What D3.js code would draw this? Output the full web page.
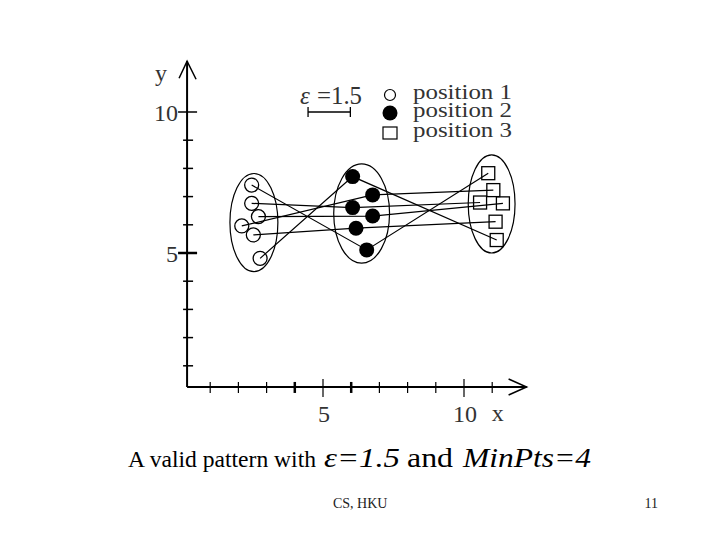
<!DOCTYPE html>
<html>
<head>
<meta charset="utf-8">
<script src="https://cdn.jsdelivr.net/npm/d3@7"></script>
<style>
  body { margin: 0; background: #fff; }
  svg text { font-family: "Liberation Serif", "Times New Roman", serif; }
</style>
</head>
<body>
<div class="canvas"></div>
<script>
// objects at the three positions (same index = same object)
const pos1 = [[2.47, 7.41], [2.47, 6.76], [2.71, 6.29], [2.12, 5.96], [2.53, 5.64], [2.77, 4.81]]
const pos2 = [[6.55, 5.11], [6.05, 6.61], [6.76, 6.31], [6.76, 7.06], [6.17, 5.88], [6.05, 7.71]]
const pos3 = [[10.86, 7.83], [10.57, 6.79], [11.38, 6.76], [11.04, 7.23], [11.12, 6.11], [11.16, 5.46]]

// cluster outlines (ellipses) in data units
const clusterCx = [2.55, 6.37, 10.98]
const clusterCy = [6.08, 6.40, 6.74]
const clusterRx = [0.85, 0.99, 0.83]
const clusterRy = [1.74, 1.76, 1.74]

const xTicks = [1, 2, 3, 4, 5, 6, 7, 8, 9, 10, 11]
const yTicks = [1, 2, 3, 4, 5, 6, 7, 8, 9, 10]
const xLabels = [5, 10]
const yLabels = [5, 10]
const legendLabels = ['position 1', 'position 2', 'position 3']
const eps = 1.5

// caption pieces: text, left x, width, italic, size
const captionParts = [
  ['A valid pattern with', 128, 188, false, 23],
  ['ε=1.5', 324, 76, true, 27],
  ['and', 407, 46, false, 27],
  ['MinPts=4', 463, 128, true, 27]
]

const width = 720, height = 540

const svg = d3.select('.canvas').append('svg')
  .attr('width', width)
  .attr('height', height)

const x = d3.scaleLinear().domain([0, 10]).range([182, 464])
const y = d3.scaleLinear().domain([0, 10]).range([394, 112])

// axis origin sits a bit off (0,0) as in the drawing
const ox = x(0.18), oy = y(0.25)

const axes = svg.append('g').attr('stroke', '#000').attr('fill', 'none')

axes.append('line').attr('x1', ox).attr('y1', oy).attr('x2', ox).attr('y2', y(11.8)).attr('stroke-width', 2)
axes.append('line').attr('x1', ox).attr('y1', oy).attr('x2', x(12.22)).attr('y2', oy).attr('stroke-width', 2)

// arrow heads (open chevrons)
axes.append('path')
  .attr('d', `M${ox - 8},${y(11.8) + 17} L${ox},${y(11.8)} L${ox + 9},${y(11.8) + 18}`)
  .attr('stroke-width', 1.5)
axes.append('path')
  .attr('d', `M${x(12.22) - 18},${oy - 8} L${x(12.22)},${oy} L${x(12.22) - 18},${oy + 8}`)
  .attr('stroke-width', 1.5)

// ticks cross the axis
axes.selectAll('.ytick').data(yTicks).enter()
  .append('line').attr('class', 'ytick')
  .attr('x1', d => yLabels.includes(d) ? ox - 9 : ox - 4)
  .attr('x2', d => yLabels.includes(d) ? ox + 10 : ox + 6)
  .attr('y1', d => y(d)).attr('y2', d => y(d))
  .attr('stroke-width', d => d === 5 ? 2.5 : 1.5)

axes.selectAll('.xtick').data(xTicks).enter()
  .append('line').attr('class', 'xtick')
  .attr('x1', d => x(d)).attr('x2', d => x(d))
  .attr('y1', d => xLabels.includes(d) ? oy - 8 : oy - 5)
  .attr('y2', d => xLabels.includes(d) ? oy + 10 : oy + 6)
  .attr('stroke-width', d => (d === 4 || d === 6) ? 2.5 : 1.2)

const labels = svg.append('g').attr('fill', '#333').attr('font-size', 24)

labels.selectAll('.ylab').data(yLabels).enter()
  .append('text')
  .attr('x', ox - 9)
  .attr('y', d => y(d) + 9)
  .attr('text-anchor', 'end')
  .text(d => d)

labels.selectAll('.xlab').data(xLabels).enter()
  .append('text')
  .attr('x', d => x(d) + 1)
  .attr('y', oy + 35)
  .attr('text-anchor', 'middle')
  .text(d => d)

labels.append('text').attr('x', ox - 26).attr('y', y(11.8) + 20).attr('text-anchor', 'middle').text('y')
labels.append('text').attr('x', x(11.2)).attr('y', oy + 34).attr('text-anchor', 'middle').text('x')

// cluster ellipses
const plot = svg.append('g')

plot.selectAll('.cluster').data(clusterCx).enter()
  .append('ellipse').attr('class', 'cluster')
  .attr('cx', d => x(d))
  .attr('cy', (d, i) => y(clusterCy[i]))
  .attr('rx', (d, i) => x(clusterRx[i]) - x(0))
  .attr('ry', (d, i) => y(0) - y(clusterRy[i]))
  .attr('fill', 'none')
  .attr('stroke', '#000')
  .attr('stroke-width', 1.2)

// object paths across positions
const line = d3.line().x(d => x(d[0])).y(d => y(d[1]))
plot.selectAll('.track').data(pos1.map((p, i) => [p, pos2[i], pos3[i]])).enter()
  .append('path').attr('class', 'track')
  .attr('d', line)
  .attr('fill', 'none')
  .attr('stroke', '#000')
  .attr('stroke-width', 1.2)

plot.selectAll('.p1').data(pos1).enter()
  .append('circle').attr('class', 'p1')
  .attr('cx', d => x(d[0])).attr('cy', d => y(d[1])).attr('r', 7)
  .attr('fill', 'none').attr('stroke', '#000').attr('stroke-width', 1.3)

plot.selectAll('.p2').data(pos2).enter()
  .append('circle').attr('class', 'p2')
  .attr('cx', d => x(d[0])).attr('cy', d => y(d[1])).attr('r', 7.5)
  .attr('fill', '#000')

plot.selectAll('.p3').data(pos3).enter()
  .append('rect').attr('class', 'p3')
  .attr('x', d => x(d[0]) - 6.5).attr('y', d => y(d[1]) - 6.5)
  .attr('width', 13).attr('height', 13)
  .attr('fill', 'none').attr('stroke', '#000').attr('stroke-width', 1.3)

// epsilon scale bar at y = 10
const barX = 4.47
const eg = svg.append('g')
eg.append('line').attr('x1', x(barX)).attr('x2', x(barX + eps)).attr('y1', y(10)).attr('y2', y(10))
  .attr('stroke', '#000').attr('stroke-width', 1.3)
eg.selectAll('.cap').data([barX, barX + eps]).enter()
  .append('line').attr('class', 'cap')
  .attr('x1', d => x(d)).attr('x2', d => x(d))
  .attr('y1', y(10) - 5).attr('y2', y(10) + 5)
  .attr('stroke', '#000').attr('stroke-width', 1.3)
eg.append('text').attr('x', 300).attr('y', 104).attr('font-size', 25).attr('fill', '#333')
  .attr('font-style', 'italic').text('ε')
eg.append('text').attr('x', 317).attr('y', 104).attr('font-size', 25).attr('fill', '#333')
  .attr('textLength', 45).attr('lengthAdjust', 'spacingAndGlyphs')
  .text('=1.5')

// legend
const legend = svg.append('g').attr('transform', 'translate(390,0)')
const rowY = [95, 113, 133]
legend.append('circle').attr('cx', 0).attr('cy', rowY[0]).attr('r', 5.5)
  .attr('fill', 'none').attr('stroke', '#000').attr('stroke-width', 1.2)
legend.append('circle').attr('cx', 0).attr('cy', rowY[1]).attr('r', 7.5).attr('fill', '#000')
legend.append('rect').attr('x', -7).attr('y', rowY[2] - 6).attr('width', 14).attr('height', 12)
  .attr('fill', 'none').attr('stroke', '#000').attr('stroke-width', 1.2)

legend.selectAll('.ltext').data(legendLabels).enter()
  .append('text').attr('class', 'ltext')
  .attr('x', 23)
  .attr('y', (d, i) => rowY[i] + 4)
  .attr('font-size', 20)
  .attr('fill', '#333')
  .attr('textLength', 99)
  .attr('lengthAdjust', 'spacingAndGlyphs')
  .text(d => d)

// caption
svg.selectAll('.caption').data(captionParts).enter()
  .append('text').attr('class', 'caption')
  .attr('x', d => d[1])
  .attr('y', 467)
  .attr('font-size', d => d[4])
  .attr('font-style', d => d[3] ? 'italic' : 'normal')
  .attr('textLength', d => d[2])
  .attr('lengthAdjust', 'spacingAndGlyphs')
  .attr('fill', '#000')
  .text(d => d[0])

// footer
svg.append('text').attr('x', 333).attr('y', 508).attr('font-size', 14).attr('fill', '#222').text('CS, HKU')
svg.append('text').attr('x', 658).attr('y', 508).attr('font-size', 14).attr('fill', '#222').attr('text-anchor', 'end').text('11')
</script>
</body>
</html>
